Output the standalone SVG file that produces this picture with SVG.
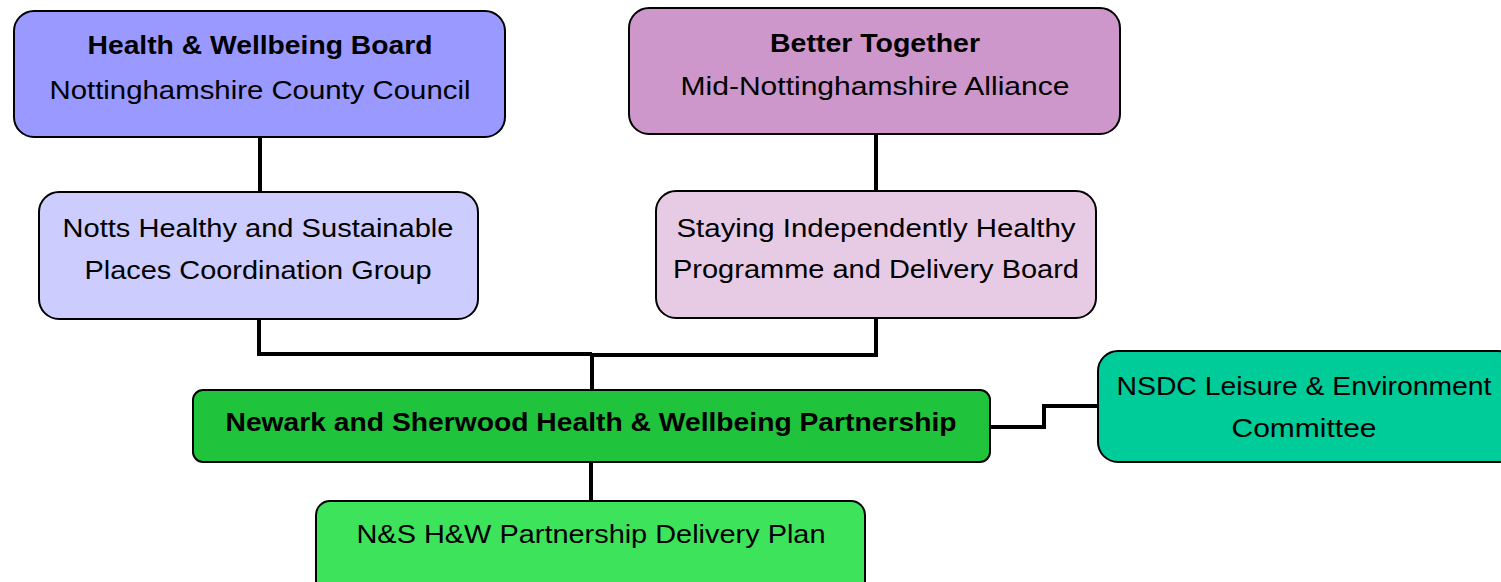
<svg xmlns="http://www.w3.org/2000/svg" width="1501" height="582" viewBox="0 0 1501 582">
  <style>
    .box { stroke: #000; stroke-width: 2; }
    .t { font-family: "Liberation Sans", Arial, sans-serif; font-size: 25px; fill: #000; text-anchor: middle; }
    .b { font-weight: bold; }
    .link { fill: none; stroke: #000; stroke-width: 4; }
  </style>
  <rect width="1501" height="582" fill="#fff"/>

  <g id="connectors">
    <path class="link" d="M260 137 V192"/>
    <path class="link" d="M876 134 V191"/>
    <path class="link" d="M259 319 V354 H592"/>
    <path class="link" d="M876 318 V355 H592"/>
    <path class="link" d="M592 354 V390"/>
    <path class="link" d="M591 462 V501"/>
    <path class="link" d="M990 427 H1044 V406 H1098"/>
  </g>

  <g id="hwb">
    <rect class="box" x="14" y="11" width="491" height="126" rx="20" fill="#9999ff"/>
    <text class="t b" x="260" y="54" textLength="345" lengthAdjust="spacingAndGlyphs">Health &amp; Wellbeing Board</text>
    <text class="t" x="260" y="99" textLength="421" lengthAdjust="spacingAndGlyphs">Nottinghamshire County Council</text>
  </g>

  <g id="better-together">
    <rect class="box" x="629" y="8" width="491" height="126" rx="20" fill="#cd97cb"/>
    <text class="t b" x="875" y="52" textLength="210" lengthAdjust="spacingAndGlyphs">Better Together</text>
    <text class="t" x="875" y="95" textLength="389" lengthAdjust="spacingAndGlyphs">Mid-Nottinghamshire Alliance</text>
  </g>

  <g id="notts-hsp">
    <rect class="box" x="39" y="192" width="439" height="127" rx="20" fill="#ccccff"/>
    <text class="t" x="258" y="237" textLength="391" lengthAdjust="spacingAndGlyphs">Notts Healthy and Sustainable</text>
    <text class="t" x="258" y="279" textLength="347" lengthAdjust="spacingAndGlyphs">Places Coordination Group</text>
  </g>

  <g id="sih">
    <rect class="box" x="656" y="191" width="440" height="127" rx="20" fill="#e7cbe5"/>
    <text class="t" x="876" y="237" textLength="399" lengthAdjust="spacingAndGlyphs">Staying Independently Healthy</text>
    <text class="t" x="876" y="278" textLength="406" lengthAdjust="spacingAndGlyphs">Programme and Delivery Board</text>
  </g>

  <g id="ns-partnership">
    <rect class="box" x="193" y="390" width="797" height="72" rx="10" fill="#20c33c"/>
    <text class="t b" x="591" y="431" textLength="731" lengthAdjust="spacingAndGlyphs">Newark and Sherwood Health &amp; Wellbeing Partnership</text>
  </g>

  <g id="nsdc">
    <rect class="box" x="1098" y="351" width="420" height="111" rx="20" fill="#00cc99"/>
    <text class="t" x="1304" y="395" textLength="375" lengthAdjust="spacingAndGlyphs">NSDC Leisure &amp; Environment</text>
    <text class="t" x="1304" y="437" textLength="145" lengthAdjust="spacingAndGlyphs">Committee</text>
  </g>

  <g id="delivery-plan">
    <rect class="box" x="316" y="501" width="549" height="100" rx="14" fill="#3ee35c"/>
    <text class="t" x="591" y="543" textLength="469" lengthAdjust="spacingAndGlyphs">N&amp;S H&amp;W Partnership Delivery Plan</text>
  </g>
</svg>
